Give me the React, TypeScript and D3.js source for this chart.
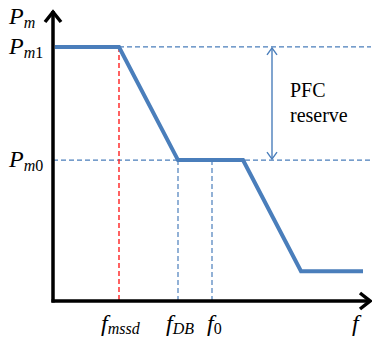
import React from 'react';
import * as d3 from 'd3';

// droop curve (f in arbitrary units, P in arbitrary units)
const curveF = [0.2, 6.6, 12.5, 19, 24.8, 31];
const curveP = [8.76, 8.76, 4.86, 4.86, 1.03, 1.03];

const pm1 = 8.76;
const pm0 = 4.86;
const fMssd = 6.6;
const fDB = 12.5;
const f0 = 15.9;
const fReserve = 21.9;

const yLabels = [
  { value: 9.7, main: 'P', sub: 'm', num: '' },
  { value: pm1, main: 'P', sub: 'm', num: '1' },
  { value: pm0, main: 'P', sub: 'm', num: '0' },
];
const xLabels = [
  { value: fMssd, main: 'f', sub: 'mssd', num: '', shift: -18 },
  { value: fDB, main: 'f', sub: 'DB', num: '', shift: -12 },
  { value: f0, main: 'f', sub: '', num: '0', shift: -5 },
  { value: 30.6, main: 'f', sub: '', num: '', shift: -7 },
];

const width = 372;
const height = 342;
const blue = '#4a7ebb';
const serif = "Liberation Serif, DejaVu Serif, serif";

export default function App() {
  const x = d3.scaleLinear().domain([0, 31.8]).range([53, 371]);
  const y = d3.scaleLinear().domain([0, 10]).range([301, 11]);

  const pts = curveF.map((f, i) => [f, curveP[i]] as [number, number]);
  const line = d3.line<[number, number]>()
    .x(d => x(d[0]))
    .y(d => y(d[1]));

  const x0 = x(0);
  const y0 = y(0);
  const xEnd = x(31.8);
  const yTop = y(10);
  const xr = x(fReserve);

  return (
    <div style={{ position: 'absolute', left: 0, top: 0 }}>
      <svg width={width} height={height} style={{ display: 'block' }}>
        <rect width={width} height={height} fill="#fff" />

        {/* reference dashed lines */}
        <line x1={x(fMssd)} x2={xEnd} y1={y(pm1)} y2={y(pm1)}
          stroke={blue} strokeWidth={1.2} strokeDasharray="5,3" />
        <line x1={x0} x2={xEnd} y1={y(pm0)} y2={y(pm0)}
          stroke={blue} strokeWidth={1.2} strokeDasharray="5,3" />
        <line x1={x(fMssd)} x2={x(fMssd)} y1={y(pm1)} y2={y0}
          stroke="#ff2020" strokeWidth={1.4} strokeDasharray="5,3" />
        <line x1={x(fDB)} x2={x(fDB)} y1={y(pm0)} y2={y0}
          stroke={blue} strokeWidth={1.2} strokeDasharray="5,3" />
        <line x1={x(f0)} x2={x(f0)} y1={y(pm0)} y2={y0}
          stroke={blue} strokeWidth={1.2} strokeDasharray="5,3" />

        {/* PFC reserve double arrow */}
        <line x1={xr} x2={xr} y1={y(pm1) + 1} y2={y(pm0) - 1}
          stroke={blue} strokeWidth={1.4} />
        <path d={`M${xr - 5},${y(pm1) + 8} L${xr},${y(pm1) + 1} L${xr + 5},${y(pm1) + 8}`}
          fill="none" stroke={blue} strokeWidth={1.4} />
        <path d={`M${xr - 5},${y(pm0) - 8} L${xr},${y(pm0) - 1} L${xr + 5},${y(pm0) - 8}`}
          fill="none" stroke={blue} strokeWidth={1.4} />
        <text x={xr + 18} y={97} style={{ fontFamily: serif, fontSize: 20 }}>PFC</text>
        <text x={xr + 18} y={122} style={{ fontFamily: serif, fontSize: 20 }}>reserve</text>

        {/* droop curve */}
        <path d={line(pts) || ''} fill="none" stroke={blue} strokeWidth={4} strokeLinejoin="miter" />

        {/* axes */}
        <line x1={x0} x2={x0} y1={y0 + 1.5} y2={yTop} stroke="#000" strokeWidth={3.5} />
        <path d={`M${x0 - 8},${yTop + 11} L${x0},${yTop + 1} L${x0 + 8},${yTop + 11}`}
          fill="none" stroke="#000" strokeWidth={3.5} />
        <line x1={x0 - 1.5} x2={xEnd - 1} y1={y0} y2={y0} stroke="#000" strokeWidth={3.5} />
        <path d={`M${xEnd - 11},${y0 - 8} L${xEnd - 1},${y0} L${xEnd - 11},${y0 + 8}`}
          fill="none" stroke="#000" strokeWidth={3.5} />

        {/* y labels */}
        {yLabels.map((l, i) => (
          <text key={i} x={9} y={y(l.value) + (i === 0 ? 4 : 7)}
            style={{ fontFamily: serif, fontStyle: 'italic', fontSize: 24 }}>
            {l.main}
            <tspan style={{ fontSize: 16 }} dy={4}>{l.sub}</tspan>
            {l.num && <tspan style={{ fontSize: 16, fontStyle: 'normal' }}>{l.num}</tspan>}
          </text>
        ))}

        {/* x labels */}
        {xLabels.map((l, i) => (
          <text key={i} x={x(l.value) + l.shift}
            y={331} style={{ fontFamily: serif, fontStyle: 'italic', fontSize: 24 }}>
            {l.main}
            {l.sub && <tspan style={{ fontSize: 16 }} dy={3}>{l.sub}</tspan>}
            {l.num && <tspan style={{ fontSize: 16, fontStyle: 'normal' }} dy={3}>{l.num}</tspan>}
          </text>
        ))}
      </svg>
    </div>
  );
}
